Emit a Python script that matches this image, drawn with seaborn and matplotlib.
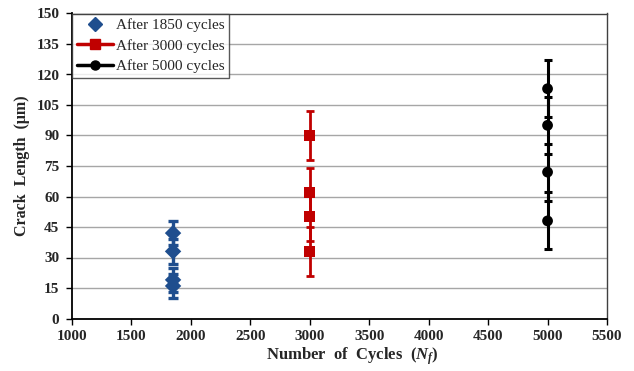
import numpy as np
import pandas as pd
import matplotlib
matplotlib.use("Agg")
import matplotlib.pyplot as plt
import seaborn as sns
from matplotlib.lines import Line2D

# Data
series = ["After 1850 cycles", "After 3000 cycles", "After 5000 cycles"]
cycles = [1850, 3000, 5000]
crack_1850 = [42, 33, 19, 16]
crack_3000 = [90, 62, 50, 33]
crack_5000 = [113, 95, 72, 48]
err_1850 = [6, 6, 6, 6]
err_3000 = [12, 12, 12, 12]
err_5000 = [14, 14, 14, 14]
x_ticks = [1000, 1500, 2000, 2500, 3000, 3500, 4000, 4500, 5000, 5500]
y_ticks = [0, 15, 30, 45, 60, 75, 90, 105, 120, 135, 150]

colors = ["#1F4E8E", "#C00000", "#000000"]
markers = ["D", "s", "o"]
msizes = [70, 60, 60]
elw = [2.4, 2.0, 2.2]
caps = [3.5, 3.0, 3.0]

rows = []
for name, c, vals, errs in zip(series, cycles, [crack_1850, crack_3000, crack_5000],
                               [err_1850, err_3000, err_5000]):
    for v, e in zip(vals, errs):
        rows.append({"series": name, "cycles": c, "crack": v, "err": e})
df = pd.DataFrame(rows)

sns.set_theme(style="white")
plt.rcParams["font.family"] = ["Liberation Serif", "DejaVu Serif"]
plt.rcParams["mathtext.fontset"] = "custom"
plt.rcParams["mathtext.it"] = "Liberation Serif:italic:bold"
plt.rcParams["mathtext.rm"] = "Liberation Serif:bold"
plt.rcParams["mathtext.bf"] = "Liberation Serif:bold"

fig = plt.figure(figsize=(6.34, 3.71), dpi=100)
ax = fig.add_axes([72/634, 1-318.5/371, (607-72)/634, (318.5-13.5)/371])

ax.set_axisbelow(True)
ax.yaxis.grid(True, color="#A6A6A6", linewidth=1.0)
ax.xaxis.grid(False)

for name, col, lw, cs in zip(series, colors, elw, caps):
    sub = df[df["series"] == name]
    ax.errorbar(sub["cycles"], sub["crack"], yerr=sub["err"], fmt="none",
                ecolor=col, elinewidth=lw, capsize=cs, capthick=lw, zorder=2)

sns.scatterplot(data=df, x="cycles", y="crack", hue="series", style="series",
                size="series", sizes=dict(zip(series, msizes)),
                palette=dict(zip(series, colors)), markers=dict(zip(series, markers)),
                edgecolor="none", linewidth=0, ax=ax, legend=False, zorder=3)

ax.set_xlim(1000, 5500)
ax.set_ylim(0, 150)
ax.set_xticks(x_ticks)
ax.set_yticks(y_ticks)
ax.set_xticklabels([str(t) for t in x_ticks], fontweight="bold", fontsize=11)
ax.set_yticklabels([str(t) for t in y_ticks], fontweight="bold", fontsize=11)
ax.tick_params(axis="both", direction="out", length=4, width=1, color="black")
ax.tick_params(axis="x", bottom=True, pad=4)
ax.tick_params(axis="y", left=True, pad=5)

for s in ["left", "bottom"]:
    ax.spines[s].set_color("black")
    ax.spines[s].set_linewidth(1.3)
for s in ["top", "right"]:
    ax.spines[s].set_color("#404040")
    ax.spines[s].set_linewidth(1.0)

ax.set_xlabel(r"Number  of  Cycles  ($N_f$)", fontweight="bold", fontsize=12)
ax.xaxis.set_label_coords((352 - 72) / 535, -(345 - 318.5) / 305)
ax.set_ylabel("Crack  Length  (μm)", fontweight="bold", fontsize=11.5, labelpad=5)

handles = [
    Line2D([], [], color=colors[0], marker="D", linestyle="none", markersize=7.5),
    Line2D([], [], color=colors[1], marker="s", linewidth=2.5, markersize=6.5),
    Line2D([], [], color=colors[2], marker="o", linewidth=2.5, markersize=6.5),
]
leg = ax.legend(handles, series, loc="upper left", bbox_to_anchor=(0, 1),
                borderaxespad=0, frameon=True, fancybox=False, fontsize=11,
                handlelength=2.4, handletextpad=0.15, labelspacing=0.45,
                borderpad=0.3)
leg.get_frame().set_edgecolor("#303030")
leg.get_frame().set_linewidth(1.0)

fig.savefig("out.png", dpi=100)
